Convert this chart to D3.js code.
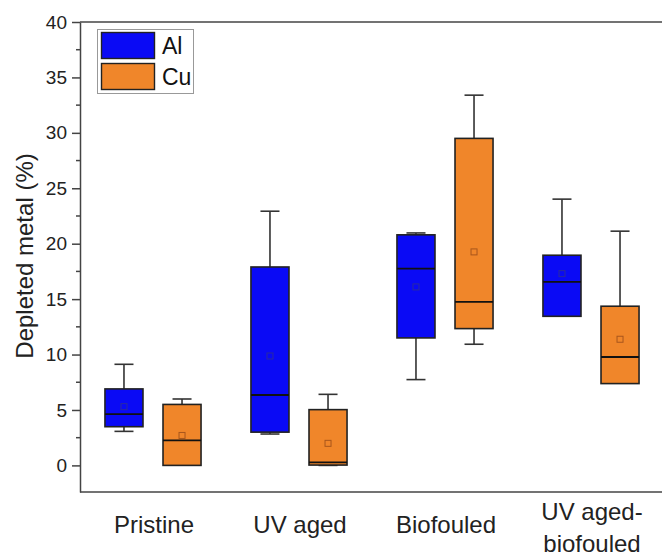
<!DOCTYPE html>
<html>
<head>
<meta charset="utf-8">
<script src="https://cdn.jsdelivr.net/npm/d3@7"></script>
<style>
  body { margin: 0; background: #fff; }
  svg { display: block; font-family: "Liberation Sans", Arial, sans-serif; }
</style>
</head>
<body>
<div id="chart"></div>
<script>
// categories and series (min, q1, median, q3, max, mean)
const groups = ["Pristine", "UV aged", "Biofouled", "UV aged-biofouled"];
const groupLines = [["Pristine"], ["UV aged"], ["Biofouled"], ["UV aged-", "biofouled"]];
const metals = ["Al", "Cu"];
const alStats = [
  [3.07, 3.49, 4.63, 6.9, 9.12, 5.3],
  [2.83, 3.0, 6.35, 17.9, 22.93, 9.87],
  [7.74, 11.5, 17.76, 20.8, 20.97, 16.1],
  [13.45, 13.45, 16.55, 18.96, 24.02, 17.3]
];
const cuStats = [
  [0, 0, 2.26, 5.5, 5.99, 2.7],
  [0, 0.03, 0.27, 5.03, 6.41, 1.99],
  [10.93, 12.34, 14.75, 29.5, 33.4, 19.26],
  [7.38, 7.38, 9.78, 14.36, 21.13, 11.38]
];
const yTicks = [0, 5, 10, 15, 20, 25, 30, 35, 40];

const colors = { Al: "#0a0af5", Cu: "#f0862a" };
const meanStroke = { Al: "#2a2aa0", Cu: "#a8561c" };

const width = 662, height = 556;
const svg = d3.select("#chart").append("svg")
  .attr("width", width)
  .attr("height", height);

const x = d3.scaleBand().domain(groups).range([80, 664]);
const xInner = d3.scaleBand().domain(metals).range([0, x.bandwidth()])
  .paddingInner(0.345).paddingOuter(0.43);
const y = d3.scaleLinear().domain([-2.4, 40]).range([492, 22]);

// frame lines: top and bottom
svg.append("line").attr("x1", 80).attr("x2", width).attr("y1", y(40)).attr("y2", y(40))
  .attr("stroke", "#444").attr("stroke-width", 1.5);
svg.append("line").attr("x1", 80).attr("x2", width).attr("y1", y(-2.4)).attr("y2", y(-2.4))
  .attr("stroke", "#444").attr("stroke-width", 1.5);

// y axis with minor ticks
const yAxis = svg.append("g").attr("transform", "translate(80,0)")
  .call(d3.axisLeft(y).tickValues(yTicks).tickSize(8).tickPadding(5).tickSizeOuter(0));
yAxis.select(".domain").attr("stroke", "#444").attr("stroke-width", 1.5);
yAxis.selectAll(".tick line").attr("stroke", "#444").attr("stroke-width", 1.5);
yAxis.selectAll(".tick text").attr("font-size", 19).attr("fill", "#222")
  .attr("font-family", "Liberation Sans, Arial, sans-serif");
const minor = d3.range(2.5, 40, 5);
svg.append("g").selectAll("line").data(minor).join("line")
  .attr("x1", 76).attr("x2", 80)
  .attr("y1", d => y(d)).attr("y2", d => y(d))
  .attr("stroke", "#444").attr("stroke-width", 1.5);

svg.append("text")
  .attr("transform", "translate(33,256) rotate(-90)")
  .attr("text-anchor", "middle")
  .attr("font-size", 24)
  .attr("fill", "#222")
  .text("Depleted metal (%)");

// x labels (no ticks)
const xl = svg.append("g").selectAll("text").data(groups).join("text")
  .attr("x", d => x(d) + x.bandwidth() / 2 + 1)
  .attr("text-anchor", "middle")
  .attr("font-size", 24)
  .attr("fill", "#222");
xl.each(function(d, i) {
  const lines = groupLines[i];
  const t = d3.select(this);
  if (lines.length === 1) {
    t.attr("y", 533).text(lines[0]);
  } else {
    lines.forEach((l, j) => {
      t.append("tspan").attr("x", x(d) + x.bandwidth() / 2 + 1)
        .attr("y", 520 + j * 32).text(l);
    });
  }
});

// boxes
const series = [{ key: "Al", stats: alStats }, { key: "Cu", stats: cuStats }];
series.forEach(s => {
  const g = svg.append("g");
  s.stats.forEach((st, i) => {
    const [mn, q1, med, q3, mx, mean] = st;
    const x0 = x(groups[i]) + xInner(s.key);
    const bw = xInner.bandwidth();
    const cx = x0 + bw / 2;
    const cap = bw / 2;
    // whiskers
    g.append("line").attr("x1", cx).attr("x2", cx).attr("y1", y(q3)).attr("y2", y(mx))
      .attr("stroke", "#333").attr("stroke-width", 1.6);
    g.append("line").attr("x1", cx).attr("x2", cx).attr("y1", y(q1)).attr("y2", y(mn))
      .attr("stroke", "#333").attr("stroke-width", 1.6);
    g.append("line").attr("x1", cx - cap / 2).attr("x2", cx + cap / 2).attr("y1", y(mx)).attr("y2", y(mx))
      .attr("stroke", "#333").attr("stroke-width", 1.6);
    if (mn < q1) {
      g.append("line").attr("x1", cx - cap / 2).attr("x2", cx + cap / 2).attr("y1", y(mn)).attr("y2", y(mn))
        .attr("stroke", "#333").attr("stroke-width", 1.6);
    }
    // box
    g.append("rect").attr("x", x0).attr("width", bw)
      .attr("y", y(q3)).attr("height", Math.max(0, y(q1) - y(q3)))
      .attr("fill", colors[s.key]).attr("stroke", "#222").attr("stroke-width", 1.6);
    // median
    g.append("line").attr("x1", x0).attr("x2", x0 + bw).attr("y1", y(med)).attr("y2", y(med))
      .attr("stroke", "#111").attr("stroke-width", 1.8);
    // mean marker
    g.append("rect").attr("x", cx - 3).attr("y", y(mean) - 3).attr("width", 6).attr("height", 6)
      .attr("fill", "none").attr("stroke", meanStroke[s.key]).attr("stroke-width", 1);
  });
});

// legend
const legend = svg.append("g");
legend.append("rect").attr("x", 97.5).attr("y", 29.5).attr("width", 96).attr("height", 64)
  .attr("fill", "#fff").attr("stroke", "#999").attr("stroke-width", 1);
metals.forEach((m, i) => {
  legend.append("rect").attr("x", 101.5).attr("y", 32.5 + i * 31).attr("width", 53).attr("height", 26)
    .attr("fill", colors[m]).attr("stroke", "#222").attr("stroke-width", 1.4);
  legend.append("text").attr("x", 162).attr("y", 54 + i * 31)
    .attr("font-size", 23).attr("fill", "#111").text(m);
});
</script>
</body>
</html>
